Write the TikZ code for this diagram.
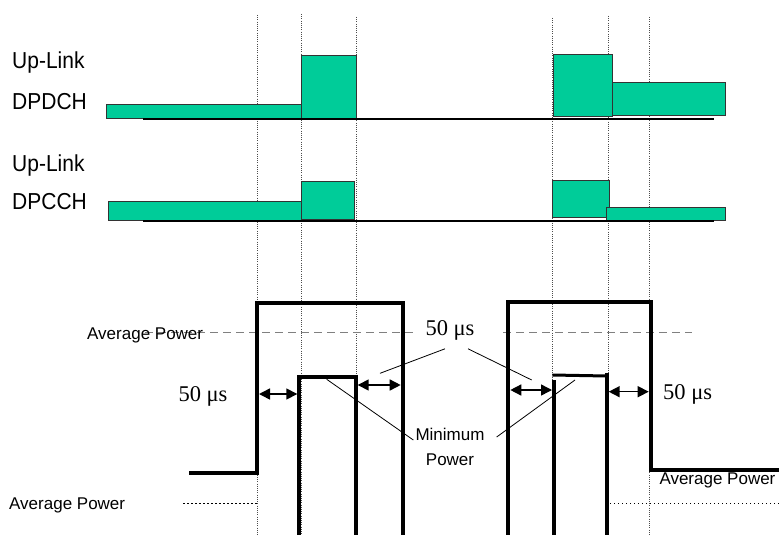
\documentclass[tikz,border=0pt]{standalone}
\usepackage{fontspec}
\setmainfont{Liberation Sans}
\newfontfamily\timesfont{Liberation Serif}
\usetikzlibrary{arrows.meta,calc}
\definecolor{slotgreen}{RGB}{0,204,153}
\newcommand{\tallbox}[1]{\scalebox{1}[1.1]{#1}}

\begin{document}
\begin{tikzpicture}[x=1pt, y=-1pt,
	burst/.style={draw=black!80, line width=1pt, fill=slotgreen},
	base/.style={line width=2pt},
	pulse/.style={line width=4pt},
	guide/.style={line width=0.6pt, black!70, dash pattern=on 1pt off 1.2pt},
	avg/.style={line width=0.8pt, gray, dash pattern=on 8pt off 5pt},
	lowavg/.style={line width=1.4pt, dash pattern=on 1.4pt off 2.6pt},
	lbl/.style={font=\fontsize{21}{21}\selectfont, inner sep=0pt},
	small/.style={font=\fontsize{17}{25}\selectfont, inner sep=0pt},
	us/.style={font=\timesfont\fontsize{22.5}{22}\selectfont, inner sep=0pt},
	dur/.style={<->, >={Triangle[length=11pt,width=11pt]}, line width=1.5pt},
	pointer/.style={line width=0.8pt}]
	\useasboundingbox (0,0) rectangle (779,535);
	% timing guides
	\foreach \x/\y in {257/15, 301.5/14, 356/17, 552.7/18, 608.7/16, 649.7/17}
		\draw[guide] (\x,\y) -- (\x,535);
	% Up-Link DPDCH
	\node[lbl, anchor=west] (up1) at (12,63) {\tallbox{Up-Link}};
	\node[lbl, anchor=west] (dpdch) at (12,102) {\tallbox{DPDCH}};
	\draw[burst] (106,104.3) rectangle (301.5,118.3);
	\draw[burst] (301.5,56) rectangle (356,118.3);
	\draw[burst] (553.7,55) rectangle (612.7,116.7);
	\draw[burst] (612.7,82.3) rectangle (725.3,115.7);
	\draw[base] (143,118.5) -- (714,118.5);
	% Up-Link DPCCH
	\node[lbl, anchor=west] (up2) at (12,165.7) {\tallbox{Up-Link}};
	\node[lbl, anchor=west] (dpcch) at (12,201.7) {\tallbox{DPCCH}};
	\draw[burst] (108,201) rectangle (301.5,220.7);
	\draw[burst] (301.5,181) rectangle (354.3,219.3);
	\draw[burst] (552.7,180) rectangle (609.3,217.7);
	\draw[burst] (606.3,207) rectangle (725.3,220.7);
	\draw[base] (143,220.5) -- (714,220.5);
	% power levels
	\draw[avg] (145,332.7) -- (413,332.7);
	\draw[avg] (503,332.7) -- (691.7,332.7);
	\draw[lowavg] (183.3,503.3) -- (256.7,503.3);
	\draw[lowavg] (610,503.3) -- (779,503.3);
	\node[small, anchor=west] (avghi) at (87,335.7) {Average Power};
	\node[small, anchor=west] (avglo) at (9,505) {Average Power};
	\node[small, anchor=west] (avgright) at (659.3,480.7) {Average Power};
	% transmitted power
	\draw[pulse] (189,472.7) -- (257,472.7) -- (257,303.3) -- (402.7,303.3) -- (402.7,535);
	\draw[pulse] (299.3,535) -- (299.3,376.7) -- (355.7,376.7) -- (355.7,535);
	\draw[pulse] (508.3,535) -- (508.3,302) -- (650.7,302) -- (650.7,470) -- (779,470);
	\draw[line width=3pt] (552.3,375) -- (606.7,376);
	\draw[pulse] (554,535) -- (554,380);
	\draw[pulse] (606.7,535) -- (606.7,373.3);
	% 50 us transitions
	\draw[dur] (259,394) -- (297.3,394);
	\draw[dur] (357.7,385) -- (400.7,385);
	\draw[dur] (510.3,390) -- (552,390);
	\draw[dur] (608.7,391.7) -- (648.7,391.7);
	\node[us] (usl) at (203,396.7) {50 μs};
	\node[us] (usm) at (450,330.7) {50 μs};
	\node[us] (usr) at (687.7,394) {50 μs};
	\node[small, align=center] (minp) at (450,447) {Minimum\\Power};
	\draw[pointer] ($(usm.south)+(-5,8)$) -- (380,373.3);
	\draw[pointer] ($(usm.south)+(18,8)$) -- (531.7,380);
	\draw[pointer] ($(minp.west)+(-2,-7)$) -- (326.7,379.3);
	\draw[pointer] ($(minp.east)+(12,-10)$) -- (575,380);
\end{tikzpicture}
\end{document}
